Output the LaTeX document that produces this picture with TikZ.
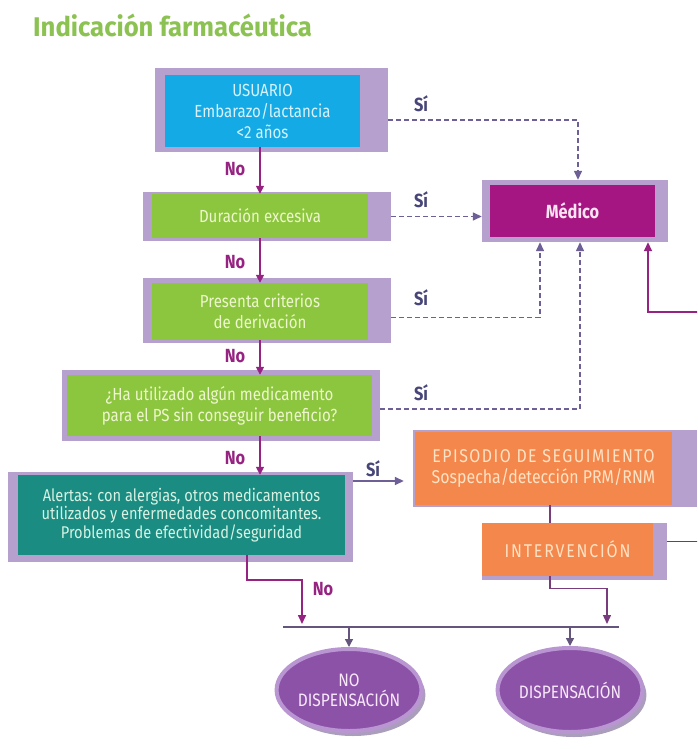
\documentclass[tikz,border=0pt]{standalone}
\usepackage{fontspec}
\setmainfont{Fira Sans}[FakeStretch=0.86]
\newfontfamily\titlefont{Fira Sans}[FakeStretch=0.95]
\usetikzlibrary{arrows.meta,calc,shapes.geometric,shadows}
\definecolor{lav}{RGB}{182,160,206}
\definecolor{cblue}{RGB}{20,170,230}
\definecolor{cgreen}{RGB}{140,198,63}
\definecolor{cteal}{RGB}{26,140,130}
\definecolor{corange}{RGB}{244,135,75}
\definecolor{cmag}{RGB}{165,22,130}
\definecolor{tgreen}{RGB}{140,194,82}
\definecolor{noc}{RGB}{150,35,130}
\definecolor{sic}{RGB}{110,95,150}
\definecolor{silab}{RGB}{72,70,120}
\definecolor{purl}{RGB}{120,60,125}
\definecolor{grl}{RGB}{100,85,125}
\definecolor{ellf}{RGB}{140,82,168}
\definecolor{elld}{RGB}{185,150,210}
\definecolor{shc}{RGB}{70,40,110}
\begin{document}
\begin{tikzpicture}[x=1pt,y=-1pt,
  lavbox/.style={fill=lav,draw=none,inner sep=0pt},
  cbox/.style={draw=none,inner sep=0pt,align=center,font=\fontsize{17.5}{21}\selectfont},
  nolab/.style={text=noc,font=\bfseries\fontsize{19}{19}\selectfont},
  silab/.style={text=silab,font=\bfseries\fontsize{19}{19}\selectfont},
  noarr/.style={draw=noc,line width=1.6pt,-{Triangle[width=8pt,length=8pt]}},
  siline/.style={draw=sic,line width=1.4pt,dash pattern=on 5pt off 3pt,-{Triangle[width=8pt,length=9pt]}},
  siarr/.style={draw=sic,line width=1.6pt,-{Triangle[width=8pt,length=9pt]}},
  magline/.style={draw=noc,line width=1.6pt,-{Triangle[width=8pt,length=9pt]}},
  purline/.style={draw=purl,line width=1.4pt},
  purarr/.style={draw=purl,line width=1.4pt,-{Triangle[width=8pt,length=9pt]}},
  hline/.style={draw=grl,line width=1.3pt},
  grarr/.style={draw=grl,line width=1.4pt,-{Triangle[width=8pt,length=8pt]}},
  ell/.style={ellipse,fill=ellf,draw=elld,line width=4pt,inner sep=0pt,align=center,
     text={rgb,255:red,248;green,232;blue,250},font=\fontsize{18}{20}\selectfont,
     drop shadow={shadow xshift=4pt,shadow yshift=-5pt,opacity=0.45,fill=shc}}
]
\useasboundingbox (0,0) rectangle (697,749);
\fill[white] (0,0) rectangle (697,749);

% title
\node[anchor=west,inner sep=0pt,text=tgreen,font=\titlefont\bfseries\fontsize{27}{30}\selectfont] (title) at (33,25) {Indicación farmacéutica};

% boxes
\node[lavbox,minimum width=233,minimum height=84] (usuL) at (271.5,110) {};
\node[cbox,fill=cblue,text={rgb,255:red,215;green,242;blue,250},minimum width=195,minimum height=72] (usu) at (262.5,111) {USUARIO\\Embarazo/lactancia\\<2 años};

\node[lavbox,minimum width=248,minimum height=49] (durL) at (267,216.5) {};
\node[cbox,fill=cgreen,text={rgb,255:red,238;green,246;blue,205},minimum width=216,minimum height=44] (dur) at (260,216) {Duración excesiva};

\node[lavbox,minimum width=248,minimum height=65] (presL) at (267,310.5) {};
\node[cbox,fill=cgreen,text={rgb,255:red,238;green,246;blue,205},minimum width=216,minimum height=57] (pres) at (260,311.5) {Presenta criterios\\de derivación};

\node[lavbox,minimum width=318,minimum height=71] (haL) at (221,405.5) {};
\node[cbox,fill=cgreen,text={rgb,255:red,238;green,246;blue,205},minimum width=305,minimum height=61] (ha) at (219.5,405.5) {¿Ha utilizado algún medicamento\\para el PS sin conseguir beneficio?};

\node[lavbox,minimum width=345,minimum height=90] (alL) at (180.5,517) {};
\node[cbox,fill=cteal,text={rgb,255:red,215;green,242;blue,228},minimum width=327,minimum height=80,font=\fontsize{17}{18.5}\selectfont] (al) at (181.5,515) {Alertas: con alergias, otros medicamentos\\utilizados y enfermedades concomitantes.\\Problemas de efectividad/seguridad};

\node[lavbox,minimum width=186,minimum height=62] (medL) at (575,211) {};
\node[cbox,fill=cmag,text={rgb,255:red,250;green,228;blue,242},minimum width=165,minimum height=52,font=\bfseries\fontsize{19}{20}\selectfont] (med) at (572.5,211) {Médico};

\node[lavbox,minimum width=284,minimum height=77] (epiL) at (555,468.5) {};
\node[cbox,fill=corange,text={rgb,255:red,255;green,226;blue,196},minimum width=257,minimum height=73,font=\fontsize{18.5}{21}\selectfont] (epi) at (543.5,468.5) {{\addfontfeature{LetterSpace=8}EPISODIO DE SEGUIMIENTO}\\Sospecha/detección PRM/RNM};

\node[lavbox,minimum width=185,minimum height=57] (intL) at (574.5,551.5) {};
\node[cbox,fill=corange,text={rgb,255:red,255;green,226;blue,196},minimum width=171,minimum height=53,font=\fontsize{18.5}{21}\selectfont] (int) at (567.5,549.5) {\addfontfeature{LetterSpace=10}INTERVENCIÓN};

\node[ell,minimum width=144,minimum height=82] (nod) at (349,690) {NO\\DISPENSACIÓN};
\node[ell,minimum width=140,minimum height=84] (dis) at (570,690) {DISPENSACIÓN};

% No arrows
\draw[noarr] (usu.south -| dur.north) -- (dur.north);
\draw[noarr] (dur.south) -- (pres.north);
\draw[noarr] (pres.south) -- (pres.south |- ha.north);
\draw[noarr] (ha.south -| pres.south) -- (pres.south |- al.north);
\node[nolab] (no1) at (235,169) {No};
\node[nolab] (no2) at (235,262) {No};
\node[nolab] (no3) at (235,356) {No};
\node[nolab] (no4) at (235,458) {No};
\node[nolab] (no5) at (323,589) {No};

% Si connectors
\node[silab] (si1) at (421,104) {Sí};
\node[silab] (si2) at (421,200) {Sí};
\node[silab] (si3) at (421,298) {Sí};
\node[silab] (si4) at (421,393) {Sí};
\node[silab] (si5) at (373,469) {Sí};
\draw[siline] ($(usuL.east)+(0,10)$) -| ($(medL.north)+(3,0)$);
\draw[siline] (durL.east) -- (durL.east -| medL.west);
\draw[siline] ($(presL.east)+(0,7)$) -| ($(medL.south)+(-35,0)$);
\draw[siline] ($(haL.east)+(0,3.5)$) -| ($(medL.south)+(5,0)$);
\draw[siarr] ($(alL.east)+(0,-36)$) -- ($(epiL.west)+(-9,12.5)$);

% intervention back to medico (cropped at right edge)
\begin{scope}
\clip (0,0) rectangle (697,749);
\draw[magline] ($(intL.east)+(0,-10)$) -- ++(60,0) |- ($(medL.south)+(73,70)$) -- ($(medL.south)+(73,0)$);
\end{scope}

% episodio -> intervencion -> line
\coordinate (e1) at ($(epi.south)+(6.5,0)$);
\draw[purline] (e1) -- (e1 |- int.north);
\coordinate (hlA) at (283,627);
\coordinate (hlB) at (619,627);
\coordinate (i1) at ($(int.south)+(-17.5,0)$);
\draw[purarr] (i1) -- ($(i1)+(0,12)$) -| ($(hlB)+(-12,-3)$);
\coordinate (a1) at ($(al.south)+(65.5,0)$);
\draw[magline] (a1) -- ($(a1)+(0,25)$) -| ($(hlA)+(19,-3)$);
\draw[hline] (hlA) -- (hlB);
\draw[grarr] (nod.north |- hlA) -- (nod.north);
\draw[grarr] (dis.north |- hlA) -- (dis.north);
\end{tikzpicture}
\end{document}
